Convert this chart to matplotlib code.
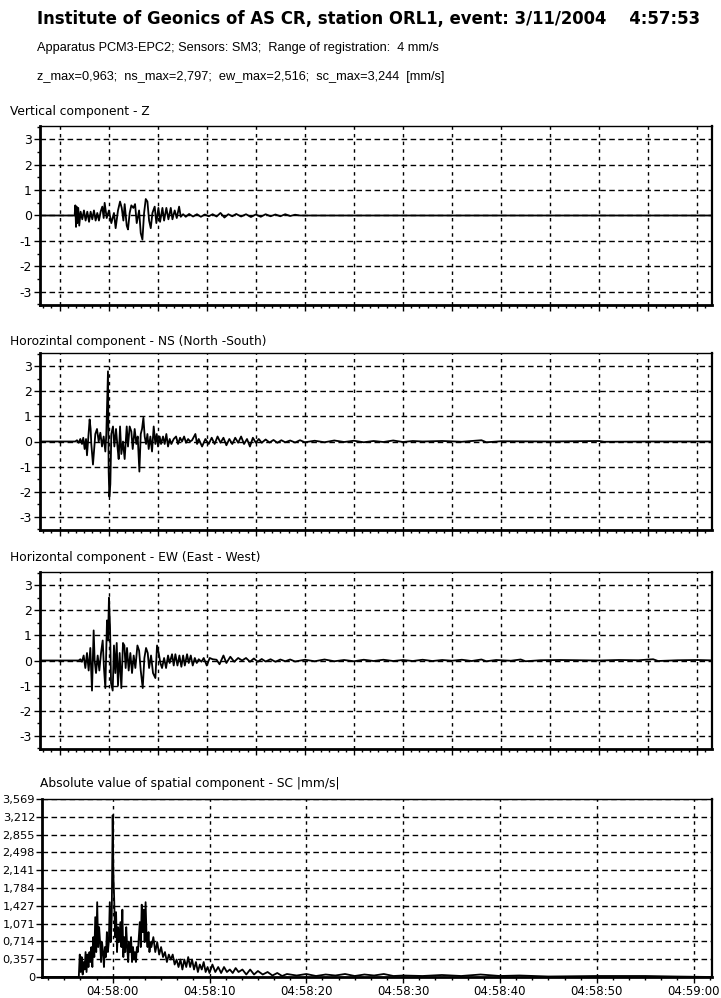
import matplotlib
matplotlib.use("Agg")
import matplotlib.pyplot as plt
from matplotlib.ticker import MultipleLocator, AutoMinorLocator, FuncFormatter

# time is in seconds relative to 04:58:00
z_t = [-7.5, -3.47, -3.40, -3.33, -3.27, -3.20, -3.10, -3.00, -2.86, -2.69, -2.52, -2.35, -2.18, -2.00, -1.84,
       -1.67, -1.50, -1.33, -1.16, -0.99, -0.82, -0.65, -0.51, -0.41, -0.20, 0.03, 0.27, 0.54, 0.71, 0.95,
       1.16, 1.33, 1.50, 1.63, 1.84, 1.97, 2.14, 2.31, 2.52, 2.69, 2.86, 3.10, 3.27, 3.44, 3.61, 3.78, 3.95,
       4.12, 4.29, 4.46, 4.69, 4.86, 5.07, 5.24, 5.48, 5.65, 5.88, 6.09, 6.33, 6.50, 6.73, 6.94, 7.18, 7.35,
       7.59, 7.86, 8.2, 8.6, 9.0, 9.4, 9.8, 10.2, 10.6, 11.0, 11.4, 11.8, 12.2, 12.6, 13.0, 13.5, 14.0, 14.5,
       15.0, 15.5, 16.0, 16.5, 17.0, 17.5, 18.0, 18.5, 19.0, 19.5, 62.0]
z_v = [0.0, 0.0, 0.4, -0.45, 0.35, -0.3, 0.3, -0.4, 0.15, -0.15, 0.2, -0.2, 0.15, -0.25, 0.15,
       -0.15, 0.2, -0.2, 0.1, -0.2, 0.15, 0.35, -0.1, 0.5, -0.1, 0.2, -0.3, 0.1, -0.5, 0.2,
       0.55, 0.3, -0.2, 0.45, -0.4, -0.55, 0.1, 0.4, 0.3, 0.45, -0.3, 0.2, -0.7, -0.95, 0.1, 0.65, 0.55,
       -0.2, -0.5, 0.1, 0.35, -0.3, 0.3, -0.25, 0.3, -0.2, 0.3, -0.15, 0.3, -0.15, 0.2, -0.1, 0.35, -0.05,
       0.05, -0.05, 0.06, -0.04, 0.05, -0.05, 0.04, -0.03, 0.05, -0.04, 0.1, -0.08, 0.05, -0.03, 0.06, -0.04, 0.05, -0.06,
       0.04, -0.05, 0.05, -0.03, 0.04, -0.03, 0.05, -0.02, 0.03, 0.0, 0.0]

ns_t = [-7.5, -3.40, -3.23, -3.06, -2.89, -2.72, -2.59, -2.45, -2.31, -2.21, -2.07, -1.94, -1.84, -1.77, -1.67,
        -1.60, -1.46, -1.36, -1.19, -1.02, -0.85, -0.68, -0.51, -0.34, -0.24, -0.17, -0.07, 0.0, 0.07, 0.17,
        0.27, 0.44, 0.58, 0.75, 0.92, 1.02, 1.16, 1.29, 1.46, 1.63, 1.84, 1.97, 2.14, 2.31, 2.45, 2.65, 2.82,
        2.96, 3.13, 3.27, 3.40, 3.54, 3.67, 3.81, 3.95, 4.08, 4.25, 4.42, 4.59, 4.76, 4.90, 5.03, 5.20, 5.34,
        5.54, 5.71, 5.88, 6.05, 6.22, 6.39, 6.63, 6.87, 7.07, 7.28, 7.48, 7.69, 7.89, 8.10, 8.30, 8.50, 8.84,
        9.01, 9.18, 9.52, 9.86, 10.2, 10.5, 10.8, 11.1, 11.4, 11.7, 12.0, 12.3, 12.6, 12.9, 13.2, 13.5, 13.8,
        14.1, 14.4, 14.7, 15.0, 15.3, 15.6, 16.0, 16.4, 16.8, 17.2, 17.6, 18.0, 18.5, 19.0, 19.5, 20.0, 21, 22,
        23, 24, 25, 26, 27, 28, 29, 30, 31, 32, 34, 36, 38, 38.5, 40, 45, 50, 50.5, 55, 62.0]
ns_v = [0.0, 0.0, 0.05, -0.05, 0.1, -0.1, 0.15, -0.3, 0.1, -0.55, 0.2, 0.88, 0.5, -0.1, -0.6,
        -0.92, -0.2, 0.3, 0.5, 0.0, 0.35, -0.2, 0.2, -0.4, 0.3, 1.3, 2.8, -1.2, -2.2, -1.7,
        0.3, 0.6, -0.2, 0.5, -0.3, -0.7, 0.6, -0.5, 0.0, -0.7, 0.6, -0.2, 0.6, 0.4, -0.3, 0.5, -0.1,
        0.2, -1.2, 0.3, 0.5, 0.95, 0.2, -0.1, 0.3, -0.3, 0.2, -0.4, 0.6, -0.1, 0.3, -0.2, 0.2, -0.1,
        0.2, -0.1, 0.3, -0.2, 0.1, -0.1, 0.1, 0.2, -0.1, 0.15, 0.0, 0.2, -0.05, 0.1, 0.0, 0.05, 0.3,
        -0.1, 0.1, -0.2, 0.1, -0.1, 0.15, -0.1, 0.2, -0.05, 0.15, -0.15, 0.1, -0.1, 0.15, -0.05, 0.2, -0.1,
        0.1, -0.2, 0.15, -0.05, 0.1, -0.05, 0.08, -0.04, 0.06, -0.05, 0.05, -0.03, 0.04, -0.04, 0.05, -0.03, 0.03, -0.03,
        0.04, -0.02, 0.03, -0.03, 0.02, -0.02, 0.04, -0.02, 0.02, 0.0, 0.02, -0.01, 0.05, -0.03, 0.01, 0.0, 0.02, -0.01, 0.0, 0.0]

ew_t = [-7.5, -3.06, -2.89, -2.72, -2.55, -2.38, -2.21, -2.04, -1.87, -1.70, -1.53, -1.43, -1.29, -1.12, -0.95,
        -0.78, -0.61, -0.48, -0.34, -0.17, -0.07, 0.03, 0.14, 0.24, 0.41, 0.54, 0.68, 0.82, 0.95, 1.12,
        1.29, 1.46, 1.60, 1.73, 1.87, 2.04, 2.21, 2.38, 2.55, 2.72, 2.93, 3.10, 3.27, 3.47, 3.64, 3.81, 3.98,
        4.12, 4.32, 4.52, 4.76, 4.93, 5.10, 5.27, 5.44, 5.65, 5.85, 6.05, 6.22, 6.46, 6.63, 6.80, 7.01, 7.21,
        7.41, 7.59, 7.76, 7.99, 8.16, 8.37, 8.57, 8.78, 8.98, 9.18, 9.46, 9.69, 10.0, 10.3, 10.6, 11.0, 11.3,
        11.7, 12.0, 12.4, 12.8, 13.2, 13.6, 14.0, 14.4, 14.8, 15.2, 15.6, 16.0, 16.5, 17.0, 17.5, 18.0, 18.5,
        19, 20, 21, 22, 23, 24, 25, 26, 27, 28, 29, 30, 31, 32, 33, 34, 35, 36, 37, 38, 38.5, 39.5, 41, 42,
        42.5, 44, 46, 48, 50, 52, 54, 55.5, 56, 58, 60, 62.0]
ew_v = [0.0, 0.0, 0.05, -0.05, 0.2, -0.3, 0.3, -0.4, 0.5, -1.2, 1.2, 0.0, -0.5, 0.2, -0.4,
        0.3, 0.8, -0.3, -1.1, 1.6, 0.8, 2.5, 1.3, -0.9, -1.2, 0.6, -0.5, 0.7, -1.0, 0.3,
        -1.1, 0.7, 0.6, -0.3, 0.5, -0.4, 0.3, -0.5, 0.2, -0.3, 0.6, 0.4, -0.4, -1.1, 0.1, 0.5, 0.3,
        -0.3, 0.2, -0.5, -0.7, 0.6, 0.3, -0.1, -0.3, 0.1, -0.3, 0.2, -0.1, 0.25, -0.2, 0.25, -0.2, 0.2,
        -0.25, 0.2, -0.2, 0.25, -0.1, 0.2, -0.2, 0.1, -0.1, 0.05, -0.05, 0.1, -0.2, 0.1, 0.05, 0.03, -0.15,
        0.2, -0.1, 0.15, -0.05, 0.1, 0.0, 0.1, -0.05, 0.08, -0.05, 0.06, -0.04, 0.05, -0.05, 0.04, -0.03, 0.04,
        -0.04, 0.03, -0.03, 0.04, -0.03, 0.02, -0.03, 0.03, -0.02, 0.03, -0.02, 0.02, -0.02, 0.03, -0.02, 0.02, -0.01, 0.03, -0.02, 0.04, -0.03, 0.02, -0.01, 0.04,
        -0.03, 0.01, 0.02, 0.01, 0.0, 0.02, 0.01, 0.05, -0.02, 0.01, 0.02, 0.0]

sc_t = [-7.5, -3.5, -3.4, -3.3, -3.2, -3.1, -3.0, -2.9, -2.8, -2.7, -2.6, -2.5, -2.4, -2.3, -2.2, -2.1, -2.0,
        -1.9, -1.8, -1.7, -1.6, -1.5, -1.4, -1.3, -1.2, -1.1, -1.0, -0.9, -0.8, -0.7, -0.6, -0.5, -0.4, -0.3,
        -0.2, -0.1, 0.0, 0.08, 0.15, 0.25, 0.35, 0.45, 0.55, 0.65, 0.8, 0.9, 1.0, 1.1, 1.2, 1.3, 1.4, 1.5,
        1.6, 1.7, 1.8, 1.9, 2.0, 2.1, 2.2, 2.3, 2.4, 2.5, 2.6, 2.7, 2.8, 2.9, 3.0, 3.1, 3.2, 3.3, 3.4, 3.5,
        3.6, 3.7, 3.8, 3.9, 4.0, 4.2, 4.4, 4.6, 4.8, 5.0, 5.2, 5.4, 5.6, 5.8, 6.0, 6.2, 6.4, 6.6, 6.8, 7.0,
        7.2, 7.4, 7.6, 7.8, 8.0, 8.2, 8.4, 8.6, 8.8, 9.0, 9.2, 9.4, 9.6, 9.8, 10.0, 10.3, 10.6, 10.9, 11.2,
        11.5, 11.8, 12.1, 12.4, 12.7, 13.0, 13.4, 13.8, 14.2, 14.6, 15.0, 15.5, 16.0, 16.5, 17.0, 17.5, 18.0,
        19, 20, 21, 22, 23, 24, 25, 26, 27, 28, 29, 30, 32, 34, 36, 38, 40, 42, 45, 50, 55, 58, 62.0]
sc_v = [0.0, 0.0, 0.45, 0.1, 0.4, 0.05, 0.3, 0.15, 0.5, 0.1, 0.45, 0.2, 0.5, 0.3, 0.6, 0.2, 0.8,
        0.4, 1.2, 0.5, 1.5, 0.6, 1.0, 0.7, 0.3, 0.7, 0.5, 0.2, 0.6, 0.4, 0.9, 0.5, 0.7, 1.5,
        0.7, 1.2, 3.244, 2.0, 1.6, 0.8, 1.3, 0.5, 1.0, 0.7, 1.1, 0.6, 1.35, 0.4, 0.8, 0.5, 1.0, 0.6,
        0.3, 0.7, 0.5, 0.8, 0.3, 0.6, 0.35, 0.5, 0.3, 0.6, 0.5, 0.8, 1.1, 0.6, 1.45, 0.9, 1.35, 0.7, 1.5, 0.8,
        0.6, 0.9, 0.5, 0.7, 0.6, 0.8, 0.5, 0.7, 0.45, 0.6, 0.4, 0.5, 0.3, 0.45, 0.35, 0.45, 0.25, 0.35, 0.2, 0.35,
        0.15, 0.35, 0.2, 0.4, 0.2, 0.35, 0.15, 0.3, 0.1, 0.25, 0.15, 0.3, 0.1, 0.2, 0.08, 0.25, 0.1, 0.2, 0.08,
        0.2, 0.1, 0.15, 0.08, 0.18, 0.1, 0.15, 0.05, 0.15, 0.05, 0.12, 0.05, 0.1, 0.03, 0.08, 0.02, 0.06,
        0.03, 0.06, 0.02, 0.05, 0.03, 0.06, 0.02, 0.05, 0.03, 0.06, 0.02, 0.03, 0.02, 0.04, 0.02, 0.05, 0.02, 0.03, 0.01, 0.02, 0.02, 0.01, 0.0]

sc_ticks = [0, 0.357, 0.714, 1.071, 1.427, 1.784, 2.141, 2.498, 2.855, 3.212, 3.569]
sc_labels = ["0", "0,357", "0,714", "1,071", "1,427", "1,784", "2,141", "2,498", "2,855", "3,212", "3,569"]

plt.rcParams['font.family'] = ['DejaVu Sans']
plt.rcParams['axes.unicode_minus'] = False

fig = plt.figure(figsize=(7.21, 9.98), dpi=100)

# header lines
fig.text(37/721, 1 - 19/998, "Institute of Geonics of AS CR, station ORL1, event: 3/11/2004    4:57:53",
         fontsize=11.9, fontweight='bold', va='center', ha='left')
fig.text(37/721, 1 - 48/998, "Apparatus PCM3-EPC2; Sensors: SM3;  Range of registration:  4 mm/s",
         fontsize=9.2, family='Liberation Sans', va='center', ha='left')
fig.text(37/721, 1 - 77/998, "z_max=0,963;  ns_max=2,797;  ew_max=2,516;  sc_max=3,244  [mm/s]",
         fontsize=9.2, family='Liberation Sans', va='center', ha='left')


def style_axes(ax):
    ax.spines['left'].set_linewidth(2.0)
    ax.spines['bottom'].set_linewidth(2.0)
    ax.spines['top'].set_linewidth(1.0)
    ax.spines['right'].set_linewidth(1.6)
    ax.tick_params(axis='both', which='major', direction='out', length=4, width=1, labelsize=9, pad=2)
    ax.tick_params(axis='both', which='minor', direction='out', length=2.5, width=1)
    ax.grid(True, axis='y', color='black', linestyle=(0, (4, 2.5)), linewidth=1.0)
    ax.grid(True, axis='x', color='black', linestyle=(0, (2.5, 3)), linewidth=1.0)
    ax.set_axisbelow(True)


panels = [
    ("Vertical component - Z", z_t, z_v, 126, 305, 111),
    ("Horozintal component - NS (North -South)", ns_t, ns_v, 353, 530, 341),
    ("Horizontal component - EW (East - West)", ew_t, ew_v, 572, 749, 557),
]

for title, t, v, top, bot, ty in panels:
    ax = fig.add_axes([40/721, 1 - bot/998, 672/721, (bot - top)/998])
    ax.plot(t, v, color='black', linewidth=1.3)
    ax.set_xlim(-7.0, 61.5)
    ax.set_ylim(-3.53, 3.53)
    ax.yaxis.set_major_locator(MultipleLocator(1))
    ax.xaxis.set_major_locator(MultipleLocator(5))
    ax.xaxis.set_minor_locator(AutoMinorLocator(6))
    ax.yaxis.set_minor_locator(AutoMinorLocator(2))
    ax.set_xticklabels([])
    style_axes(ax)
    fig.text(10/721, 1 - ty/998, title, fontsize=8.8, va='center', ha='left')

# spatial component
ax = fig.add_axes([42/721, 1 - 977/998, 670/721, 178/998])
ax.plot(sc_t, sc_v, color='black', linewidth=1.3)
ax.set_xlim(-7.3, 61.9)
ax.set_ylim(0, 3.569)
ax.set_yticks(sc_ticks)
ax.set_yticklabels(sc_labels)
ax.xaxis.set_major_locator(MultipleLocator(10))
ax.xaxis.set_minor_locator(AutoMinorLocator(6))
ax.xaxis.set_major_formatter(FuncFormatter(lambda s, pos: "04:%02d:%02d" % (58 + int(s) // 60, int(s) % 60)))
style_axes(ax)
ax.tick_params(axis='y', which='major', labelsize=8.2, pad=1)
ax.tick_params(axis='x', which='major', labelsize=8.5)
fig.text(40/721, 1 - 783/998, "Absolute value of spatial component - SC |mm/s|", fontsize=8.8, va='center', ha='left')

fig.savefig("out.png", dpi=100)
